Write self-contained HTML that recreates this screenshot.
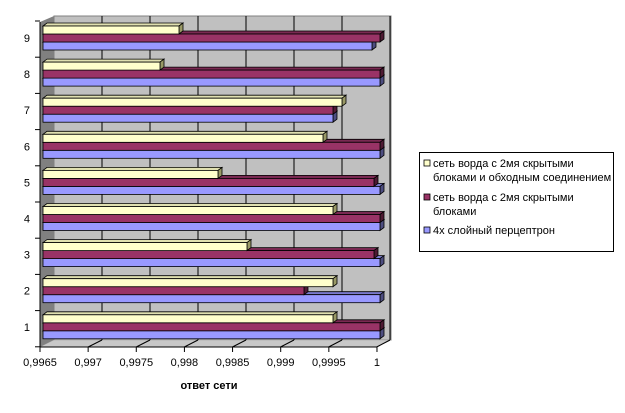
<!DOCTYPE html>
<html><head><meta charset="utf-8"><style>
body{margin:0;background:#fff;}
svg text{font-family:"Liberation Sans",sans-serif;}
</style></head><body>
<svg width="625" height="408" xmlns="http://www.w3.org/2000/svg">
<polygon points="54,16 391,16 391,340 54,340" fill="#c0c0c0" stroke="#808080" stroke-width="1"/>
<polygon points="40,22 54,16 54,340 40,347" fill="#808080"/>
<polygon points="40,347 54,340 391,340 377,347" fill="#c8c8c8" stroke="#a0a0a0" stroke-width="0.5"/>
<g stroke="#000" stroke-width="1" id="grid"></g>
<g id="bars"></g>
<g id="axis" stroke="#000" stroke-width="1"></g>
<g id="lbl" font-size="11" fill="#000"></g>
<text x="209" y="389" font-size="11" font-weight="bold" text-anchor="middle">ответ сети</text>
<rect x="419.5" y="152.5" width="194" height="99" fill="#fff" stroke="#000"/>
<rect x="424" y="160" width="6" height="6" fill="#ffffcc" stroke="#000" stroke-width="0.8"/>
<text x="433" y="167" font-size="11">сеть ворда с 2мя скрытыми</text>
<text x="433" y="181" font-size="11">блоками и обходным соединением</text>
<rect x="424" y="194" width="6" height="6" fill="#993366" stroke="#000" stroke-width="0.8"/>
<text x="433" y="201" font-size="11">сеть ворда с 2мя скрытыми</text>
<text x="433" y="215" font-size="11">блоками</text>
<rect x="424" y="227" width="6" height="6" fill="#9999ff" stroke="#000" stroke-width="0.8"/>
<text x="433" y="234" font-size="11">4х слойный перцептрон</text>
<script>
(function(){
var ns="http://www.w3.org/2000/svg";
function el(p,t,a){var e=document.createElementNS(ns,t);for(var k in a)e.setAttribute(k,a[k]);p.appendChild(e);return e;}
var g=document.getElementById('grid'),b=document.getElementById('bars'),ax=document.getElementById('axis'),lb=document.getElementById('lbl');
for(var k=1;k<=7;k++){var x=54+48*k;el(g,'line',{x1:x,y1:16,x2:x,y2:340});el(g,'line',{x1:40+48.1*k,y1:347,x2:x,y2:340});}
el(ax,'line',{x1:40,y1:22,x2:40,y2:347});el(ax,'line',{x1:40,y1:347,x2:377,y2:347});
var ticks=['0,9965','0,997','0,9975','0,998','0,9985','0,999','0,9995','1'];
for(var k=0;k<8;k++){var x=40+48.14*k;el(ax,'line',{x1:x,y1:347,x2:x,y2:352});var t=el(lb,'text',{x:x,y:366,'text-anchor':'middle'});t.textContent=ticks[k];}
for(var i=0;i<=9;i++){var y=21+36.2*i;el(ax,'line',{x1:35,y1:y,x2:40,y2:y});}
var d={9:[179,380,372],8:[160,380,380],7:[342,333,333],6:[323,380,380],5:[218,374,380],4:[333,380,380],3:[247,374,380],2:[333,304,380],1:[333,380,380]};
var cols=[['#ffffcc','#999966','#e0e0b0'],['#993366','#4d1a33','#7a2952'],['#9999ff','#4d4d80','#7a7acc']];
for(var c=9;c>=1;c--){var cy=38+36.1*(9-c);var t=el(lb,'text',{x:30,y:cy+4,'text-anchor':'end'});t.textContent=c;
 for(var s=2;s>=0;s--){var ty=cy-12+8*s,xe=d[c][s],co=cols[s];
  el(b,'polygon',{points:'43,'+ty+' '+xe+','+ty+' '+(xe+4)+','+(ty-3)+' 47,'+(ty-3),fill:co[2],stroke:'#000','stroke-width':0.8});
  el(b,'polygon',{points:xe+','+ty+' '+(xe+4)+','+(ty-3)+' '+(xe+4)+','+(ty+5)+' '+xe+','+(ty+8),fill:co[1],stroke:'#000','stroke-width':0.8});
  el(b,'rect',{x:43,y:ty,width:xe-43,height:8,fill:co[0],stroke:'#000','stroke-width':0.8});
 }}
})();
</script>
</svg>
</body></html>
